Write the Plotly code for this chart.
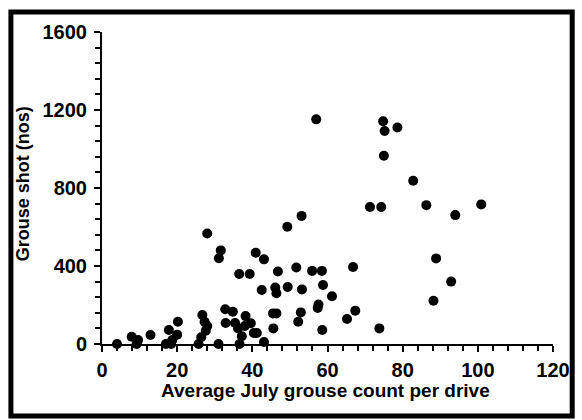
import plotly.graph_objects as go

# Average July grouse count per drive
count_x = [4.0, 7.9, 9.2, 9.6, 12.9, 17.0, 17.8, 18.4, 18.7, 20.2, 20.0,
           25.7, 26.4, 26.7, 27.3, 28.0, 27.6, 28.0, 31.0, 31.1, 31.6,
           32.8, 32.9, 34.8, 35.4, 36.2, 36.5, 36.6, 37.2, 38.2, 38.0,
           39.3, 39.6, 40.4, 40.9, 41.2, 42.5, 43.1, 43.1, 45.6, 45.5,
           46.4, 46.1, 46.4, 46.8, 49.3, 49.4, 51.7, 52.2, 52.9, 53.2,
           53.1, 55.9, 57.0, 57.4, 57.6, 58.5, 58.6, 58.8, 61.2, 65.2,
           66.8, 67.4, 71.3, 73.8, 74.3, 74.8, 75.2, 75.0, 78.6, 82.8,
           86.3, 88.2, 88.9, 92.9, 94.0, 100.9]
# Grouse shot (nos)
shot_y = [0, 37, 0, 20, 46, 0, 72, 0, 20, 114, 48,
          0, 35, 149, 114, 92, 68, 567, 0, 440, 480,
          178, 108, 166, 108, 80, 359, 0, 40, 143, 92,
          359, 106, 56, 468, 56, 277, 434, 10, 80, 157,
          157, 290, 260, 372, 601, 292, 392, 114, 162, 280,
          657, 375, 1152, 185, 203, 375, 72, 303, 245, 128,
          395, 171, 703, 80, 703, 1142, 1092, 965, 1110, 837,
          712, 222, 439, 320, 661, 716]

x_ticks = [0, 20, 40, 60, 80, 100, 120]
y_ticks = [0, 400, 800, 1200, 1600]

W, H = 582, 420
L, R, T, B = 102, 22, 32, 76
pw, ph = W - L - R, H - T - B

FONT = "Liberation Sans, Arial, sans-serif"

fig = go.Figure()
fig.add_trace(go.Scatter(
    x=count_x, y=shot_y, mode="markers",
    marker=dict(color="black", size=10, line=dict(width=0)),
    cliponaxis=False, showlegend=False,
))

tickfont = dict(family=FONT, size=20, color="black", weight="bold")
fig.update_xaxes(
    range=[0, 120], tickvals=x_ticks, showgrid=False, zeroline=False,
    showline=True, linecolor="black", linewidth=2,
    ticks="outside", ticklen=6, tickwidth=2, tickcolor="black",
    minor=dict(dtick=4, ticks="outside", ticklen=5, tickwidth=1.5, tickcolor="black"),
    tickfont=tickfont, ticklabelstandoff=1,
)
fig.update_yaxes(
    range=[0, 1600], tickvals=y_ticks, showgrid=False, zeroline=False,
    showline=True, linecolor="black", linewidth=2,
    ticks="outside", ticklen=6, tickwidth=2, tickcolor="black",
    minor=dict(dtick=80, ticks="outside", ticklen=5, tickwidth=1.5, tickcolor="black"),
    tickfont=tickfont, ticklabelstandoff=3,
)

def px_x(p):
    return (p - L) / pw

def px_y(p):
    return (H - B - p) / ph

fig.add_annotation(
    text="Average July grouse count per drive", xref="paper", yref="paper",
    x=px_x(329), y=px_y(390), showarrow=False, xanchor="center", yanchor="middle",
    font=dict(family=FONT, size=19, color="black", weight="bold"),
)
fig.add_annotation(
    text="Grouse shot (nos)", xref="paper", yref="paper", textangle=-90,
    x=px_x(22), y=px_y(184), showarrow=False, xanchor="center", yanchor="middle",
    font=dict(family=FONT, size=18, color="black", weight="bold"),
)

fig.add_shape(
    type="rect", xref="paper", yref="paper",
    x0=px_x(9.5), x1=px_x(579.5), y0=px_y(416), y1=px_y(12),
    line=dict(color="black", width=5), fillcolor="rgba(0,0,0,0)", layer="above",
)

fig.update_layout(
    width=W, height=H, margin=dict(l=L, r=R, t=T, b=B),
    paper_bgcolor="white", plot_bgcolor="white",
)
fig.write_html("out.html")
